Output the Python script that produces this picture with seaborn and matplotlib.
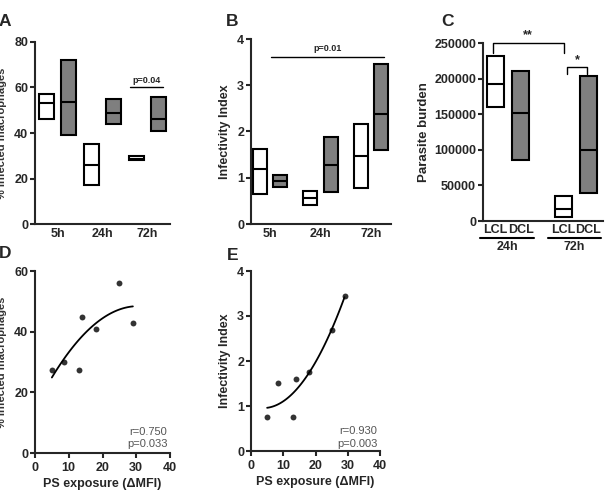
import numpy as np
import pandas as pd
import matplotlib
matplotlib.use("Agg")
import matplotlib.pyplot as plt
import seaborn as sns

sns.set_style("ticks")
plt.rcParams['font.family'] = ['Liberation Sans', 'DejaVu Sans']

# ---------------- data ----------------
times = ["5h", "24h", "72h"]
groups = ["LCL", "DCL"]

# Panel A: % infected macrophages (min, median, max)
a_lcl_min = [46, 17, 28]
a_lcl_med = [53, 26, 28.6]
a_lcl_max = [57, 35, 30]
a_dcl_min = [39, 44, 41]
a_dcl_med = [53.5, 49, 46]
a_dcl_max = [72, 55, 56]

# Panel B: infectivity index
b_lcl_min = [0.65, 0.42, 0.77]
b_lcl_med = [1.2, 0.57, 1.48]
b_lcl_max = [1.62, 0.72, 2.17]
b_dcl_min = [0.8, 0.7, 1.6]
b_dcl_med = [0.93, 1.27, 2.37]
b_dcl_max = [1.07, 1.88, 3.45]

# Panel C: parasite burden
c_labels = ["LCL", "DCL", "LCL", "DCL"]
c_times = ["24h", "24h", "72h", "72h"]
c_min = [160000, 85000, 5000, 40000]
c_med = [192000, 152000, 17000, 100000]
c_max = [232000, 210000, 35000, 203000]

# Panel D / E: correlation with PS exposure
ps_exposure = [5, 8.5, 13, 14, 18, 25, 29]
d_infected = [27.5, 30, 27.5, 45, 41, 56, 43]
e_index = [0.75, 1.52, 0.75, 1.6, 1.76, 2.68, 3.44]

GRAY = "#7f7f7f"
pal = {"LCL": "white", "DCL": GRAY}


def floating_df(tlist, mins, meds, maxs, grp):
    rows = []
    for t, lo, md, hi in zip(tlist, mins, meds, maxs):
        for v in (lo, lo, md, hi, hi):
            rows.append({"time": t, "val": v, "group": grp})
    return rows


W, H = 607, 494
fig = plt.figure(figsize=(W / 100, H / 100), dpi=100)


def add_ax(x0, x1, ytop, ybot):
    return fig.add_axes([x0 / W, 1 - ybot / H, (x1 - x0) / W, (ybot - ytop) / H])


TICK_FS = 9
LAB_FS = 9
LW = 1.5
box_kw = dict(whis=0, showcaps=False, showfliers=False, linecolor="black",
              linewidth=LW, legend=False)


def style_ax(ax, xticks=True):
    sns.despine(ax=ax)
    for s in ("left", "bottom"):
        ax.spines[s].set_linewidth(LW)
    ax.tick_params(axis="y", width=LW, length=3.5, labelsize=TICK_FS, pad=1.5)
    ax.tick_params(axis="x", width=LW, length=3.5 if xticks else 0,
                   labelsize=TICK_FS, pad=3)
    for lbl in ax.get_xticklabels() + ax.get_yticklabels():
        lbl.set_fontweight("bold")


# ---------------- Panel A ----------------
axA = add_ax(35, 170, 42, 224)
dfA = pd.DataFrame(floating_df(times, a_lcl_min, a_lcl_med, a_lcl_max, "LCL")
                   + floating_df(times, a_dcl_min, a_dcl_med, a_dcl_max, "DCL"))
sns.boxplot(data=dfA, x="time", y="val", hue="group", order=times,
            hue_order=groups, palette=pal, width=0.98, gap=0.32, ax=axA, **box_kw)
axA.set_xlim(-0.5, 2.5)
axA.set_ylim(0, 80)
axA.set_yticks([0, 20, 40, 60, 80])
axA.set_xlabel("")
axA.set_ylabel("")
style_ax(axA, xticks=False)
axA.plot([1.61, 2.34], [60, 60], color="black", lw=1.0, clip_on=False)
axA.text(1.975, 61, "p=0.04", ha="center", va="bottom", fontsize=6.5, fontweight="bold")

# ---------------- Panel B ----------------
axB = add_ax(251, 391, 39, 224)
dfB = pd.DataFrame(floating_df(times, b_lcl_min, b_lcl_med, b_lcl_max, "LCL")
                   + floating_df(times, b_dcl_min, b_dcl_med, b_dcl_max, "DCL"))
sns.boxplot(data=dfB, x="time", y="val", hue="group", order=times,
            hue_order=groups, palette=pal, width=0.8, gap=0.3, ax=axB, **box_kw)
axB.set_xlim(-0.38, 2.4)
axB.set_ylim(0, 4)
axB.set_yticks([0, 1, 2, 3, 4])
axB.set_xlabel("")
axB.set_ylabel("Infectivity Index", fontsize=LAB_FS, fontweight="bold", labelpad=4)
style_ax(axB, xticks=False)
axB.plot([0.02, 2.26], [3.6, 3.6], color="black", lw=1.0, clip_on=False)
axB.text(1.14, 3.7, "p=0.01", ha="center", va="bottom", fontsize=6.5, fontweight="bold")

# ---------------- Panel C ----------------
axC = add_ax(483, 603, 43, 221)
c_pos = [0, 1, 2.7, 3.7]
rowsC = []
for p, g, lo, md, hi in zip(c_pos, c_labels, c_min, c_med, c_max):
    for v in (lo, lo, md, hi, hi):
        rowsC.append({"pos": p, "val": v, "group": g})
dfC = pd.DataFrame(rowsC)
sns.boxplot(data=dfC, x="pos", y="val", hue="group", hue_order=groups,
            palette=pal, native_scale=True, dodge=False, width=0.68, ax=axC, **box_kw)
axC.set_xlim(-0.5, 4.3)
axC.set_ylim(0, 250000)
axC.set_yticks([0, 50000, 100000, 150000, 200000, 250000])
axC.set_yticklabels([str(v) for v in [0, 50000, 100000, 150000, 200000, 250000]])
axC.set_xticks(c_pos)
axC.set_xticklabels(c_labels)
axC.set_xlabel("")
axC.set_ylabel("Parasite burden", fontsize=9.5, fontweight="bold", labelpad=3)
style_ax(axC, xticks=False)
axC.tick_params(axis="x", labelsize=9, pad=2)
trC = axC.get_xaxis_transform()
for (x0, x1), lab in zip([(-0.62, 1.55), (2.08, 4.2)], ["24h", "72h"]):
    axC.plot([x0, x1], [-0.095, -0.095], color="black", lw=1.5,
             transform=trC, clip_on=False)
    axC.text((x0 + x1) / 2, -0.115, lab, ha="center", va="top", fontsize=9,
             fontweight="bold", transform=trC)
# significance brackets
axC.plot([-0.12, -0.12, 2.74, 2.74], [236000, 250000, 250000, 236000],
         color="black", lw=1.0, clip_on=False)
axC.text(1.3, 252000, "**", ha="center", va="bottom", fontsize=9, fontweight="bold")
axC.plot([2.86, 2.86, 3.66, 3.66], [207000, 216000, 216000, 207000],
         color="black", lw=1.0, clip_on=False)
axC.text(3.26, 217000, "*", ha="center", va="bottom", fontsize=9, fontweight="bold")

# ---------------- Panel D ----------------
axD = add_ax(35, 170, 271, 453)
sns.regplot(x=ps_exposure, y=d_infected, order=2, ci=None, ax=axD,
            scatter_kws=dict(s=18, color="black", linewidths=0),
            line_kws=dict(color="black", lw=1.3))
axD.set_xlim(0, 40)
axD.set_ylim(0, 60)
axD.set_xticks([0, 10, 20, 30, 40])
axD.set_yticks([0, 20, 40, 60])
axD.set_xlabel("PS exposure (\u0394MFI)", fontsize=LAB_FS, fontweight="bold", labelpad=3)
style_ax(axD)
axD.text(0.98, 0.115, "r=0.750", transform=axD.transAxes, ha="right", va="center",
         fontsize=8, color="#555555")
axD.text(0.98, 0.05, "p=0.033", transform=axD.transAxes, ha="right", va="center",
         fontsize=8, color="#555555")

# ---------------- Panel E ----------------
axE = add_ax(251, 380, 271, 451)
sns.regplot(x=ps_exposure, y=e_index, order=2, ci=None, ax=axE,
            scatter_kws=dict(s=18, color="black", linewidths=0),
            line_kws=dict(color="black", lw=1.3))
axE.set_xlim(0, 40)
axE.set_ylim(0, 4)
axE.set_xticks([0, 10, 20, 30, 40])
axE.set_yticks([0, 1, 2, 3, 4])
axE.set_xlabel("PS exposure (\u0394MFI)", fontsize=LAB_FS, fontweight="bold", labelpad=3)
axE.set_ylabel("Infectivity Index", fontsize=LAB_FS, fontweight="bold", labelpad=4)
style_ax(axE)
axE.text(0.98, 0.11, "r=0.930", transform=axE.transAxes, ha="right", va="center",
         fontsize=8, color="#555555")
axE.text(0.98, 0.04, "p=0.003", transform=axE.transAxes, ha="right", va="center",
         fontsize=8, color="#555555")

# y labels of A and D sit at the very left edge (partly cut, as in the original)
for yc in (133, 362):
    fig.text(2 / W, 1 - yc / H, "% infected macrophages", rotation=90,
             ha="center", va="center", fontsize=8, fontweight="bold", color="#333333")

# panel letters
for lab, (px, py) in zip("ABCDE", [(5, 21), (232, 21), (448, 21), (5, 254), (233, 255)]):
    fig.text(px / W, 1 - py / H, lab, ha="center", va="center", fontsize=12.5,
             fontweight="bold")

fig.savefig("out.png", dpi=100)
